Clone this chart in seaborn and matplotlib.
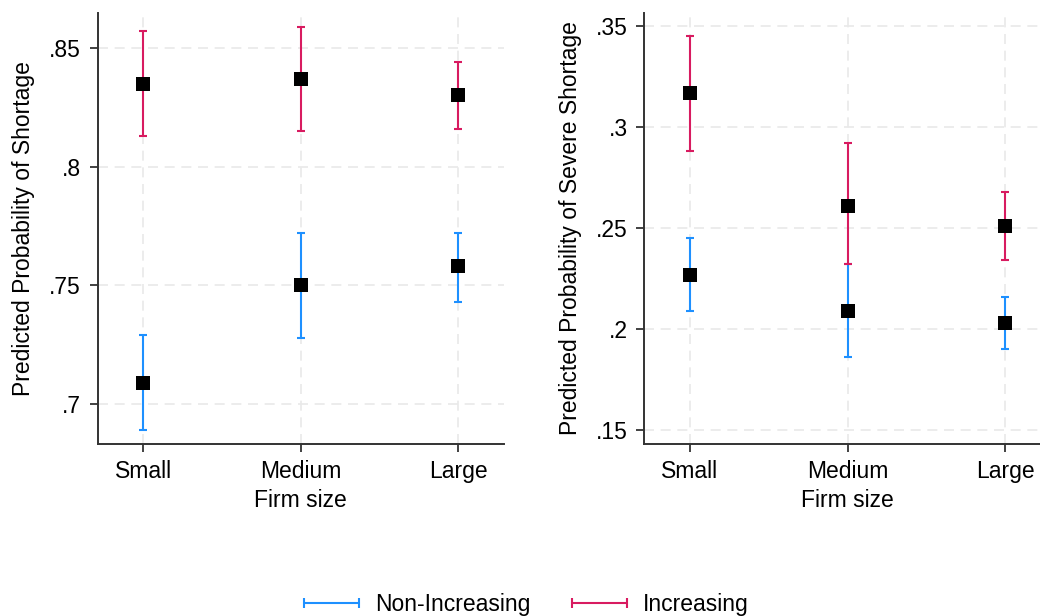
import numpy as np
import pandas as pd
import matplotlib
matplotlib.use("Agg")
import matplotlib.pyplot as plt
from matplotlib.lines import Line2D
import seaborn as sns

# Firm size categories
sizes = ["Small", "Medium", "Large"]
groups = ["Non-Increasing", "Increasing"]

# Predicted probability of shortage (point estimate, lower CI, upper CI)
short_noninc = [0.709, 0.750, 0.758]
short_noninc_lo = [0.689, 0.728, 0.743]
short_noninc_hi = [0.729, 0.772, 0.772]
short_inc = [0.835, 0.837, 0.830]
short_inc_lo = [0.813, 0.815, 0.816]
short_inc_hi = [0.857, 0.859, 0.844]

# Predicted probability of severe shortage
severe_noninc = [0.227, 0.209, 0.203]
severe_noninc_lo = [0.209, 0.186, 0.190]
severe_noninc_hi = [0.245, 0.232, 0.216]
severe_inc = [0.317, 0.261, 0.251]
severe_inc_lo = [0.288, 0.232, 0.234]
severe_inc_hi = [0.345, 0.292, 0.268]

colors = {"Non-Increasing": "#1e90ff", "Increasing": "#d81b60"}
FS = 16.5

sns.set_theme(style="white")
plt.rcParams["font.family"] = ["Liberation Sans", "DejaVu Sans"]
plt.rcParams["axes.edgecolor"] = "#333333"
plt.rcParams["text.color"] = "black"
plt.rcParams["axes.labelcolor"] = "black"
plt.rcParams["xtick.color"] = "black"
plt.rcParams["ytick.color"] = "black"


def make_frame(vals):
    rows = []
    for g, (est, lo, hi) in zip(groups, vals):
        for i, s in enumerate(sizes):
            rows.append({"size": s, "pos": i, "group": g,
                         "est": est[i], "lo": lo[i], "hi": hi[i]})
    return pd.DataFrame(rows)


df_short = make_frame([(short_noninc, short_noninc_lo, short_noninc_hi),
                       (short_inc, short_inc_lo, short_inc_hi)])
df_severe = make_frame([(severe_noninc, severe_noninc_lo, severe_noninc_hi),
                        (severe_inc, severe_inc_lo, severe_inc_hi)])

fig = plt.figure(figsize=(10.4, 6.16), dpi=100)
W, H = 1040, 616
ax1 = fig.add_axes([97.7 / W, 1 - 443.7 / H, (504 - 97.7) / W, (443.7 - 13) / H])
ax2 = fig.add_axes([644.3 / W, 1 - 443.7 / H, (1051 - 644.3) / W, (443.7 - 13) / H])


def draw(ax, df, ylim, yticks, yticklabels, ylabel):
    for g in groups:
        sub = df[df["group"] == g]
        ax.errorbar(sub["pos"], sub["est"],
                    yerr=[sub["est"] - sub["lo"], sub["hi"] - sub["est"]],
                    fmt="none", ecolor=colors[g], elinewidth=1.5,
                    capsize=3, capthick=1.5, zorder=2)
    sns.scatterplot(data=df, x="pos", y="est", marker="s", s=95,
                    color="black", edgecolor="black", linewidth=0,
                    legend=False, ax=ax, zorder=3)
    ax.set_xlim(-0.29, 2.29)
    ax.set_ylim(*ylim)
    ax.set_xticks(range(len(sizes)))
    ax.set_xticklabels(sizes)
    ax.set_yticks(yticks)
    ax.set_yticklabels(yticklabels)
    ax.grid(True, color="#e9e9e9", linestyle=(0, (6, 4)), linewidth=1.2)
    ax.set_axisbelow(True)
    for side in ["top", "right"]:
        ax.spines[side].set_visible(False)
    for side in ["left", "bottom"]:
        ax.spines[side].set_linewidth(1.4)
    ax.tick_params(axis="both", direction="out", length=6, width=1.3,
                   color="#333333", labelcolor="black", labelsize=FS, pad=6,
                   left=True, bottom=True)
    ax.set_xlabel("Firm size", fontsize=FS, labelpad=4)
    ax.set_ylabel(ylabel, fontsize=FS, labelpad=10)


draw(ax1, df_short, (0.6833, 0.8647), [0.7, 0.75, 0.8, 0.85],
     [".7", ".75", ".8", ".85"], "Predicted Probability of Shortage")
draw(ax2, df_severe, (0.1432, 0.3566), [0.15, 0.2, 0.25, 0.3, 0.35],
     [".15", ".2", ".25", ".3", ".35"], "Predicted Probability of Severe Shortage")

handles = [Line2D([0], [0], color=colors[g], lw=1.5, marker="|",
                  markersize=7, markeredgewidth=1.5) for g in groups]
fig.legend(handles, groups, loc="center", bbox_to_anchor=(523 / W, 1 - 605 / H),
           ncol=2, frameon=False, fontsize=FS, numpoints=2,
           handlelength=3.0, handletextpad=0.4, columnspacing=1.5)

fig.savefig("out.png", dpi=100)
